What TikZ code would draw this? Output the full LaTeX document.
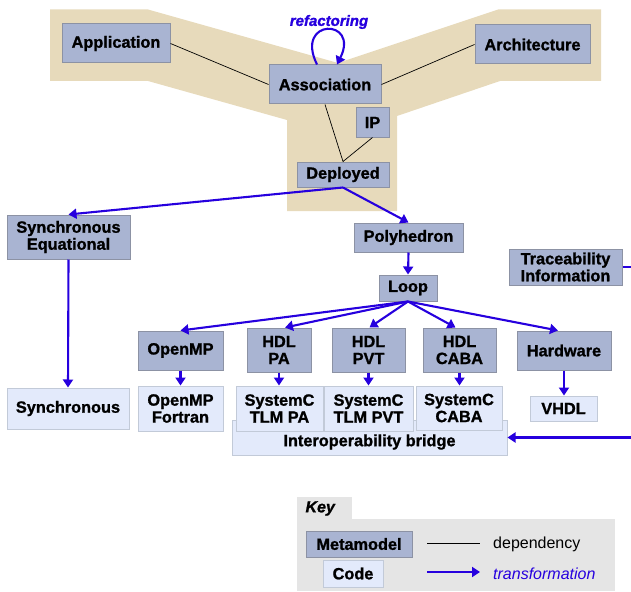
\documentclass[tikz,border=0pt]{standalone}
\usepackage{fontspec}
\setmainfont{Liberation Sans}[BoldFeatures={FakeBold=1.2},BoldItalicFeatures={FakeBold=1.2}]
\usetikzlibrary{arrows.meta,calc}
\definecolor{mmfill}{RGB}{169,180,210}
\definecolor{mmline}{RGB}{140,146,164}
\definecolor{cdfill}{RGB}{227,234,251}
\definecolor{cdline}{RGB}{194,202,216}
\definecolor{beige}{RGB}{231,218,187}
\definecolor{tblue}{RGB}{38,0,222}
\definecolor{keygrey}{RGB}{229,229,229}
\begin{document}
\begin{tikzpicture}[x=1pt,y=-1pt,
  boxfont/.style={font=\fontsize{16.3}{17}\selectfont\bfseries},
  mm/.style={draw=mmline, fill=mmfill, line width=1pt, inner sep=0pt, align=center, boxfont},
  cd/.style={draw=cdline, fill=cdfill, line width=1pt, inner sep=0pt, align=center, boxfont},
  dependency/.style={black, line width=0.7pt},
  trans/.style={tblue, line width=2.1pt, -{Triangle[length=8pt,width=10pt]}}]
\useasboundingbox (0,0) rectangle (631,591);
% beige background
\fill[beige] (50,9.5) -- (148,9.5) -- (338,63) -- (498,9.5) -- (601,9.5) -- (601,81) -- (500,81)
  -- (397,116) -- (397,211) -- (287,211) -- (287,120) -- (148,81) -- (50,81) -- cycle;
% metamodels top
\node[mm, minimum width=108pt, minimum height=39pt] (app) at (116,43.5) {Application};
\node[mm, minimum width=115pt, minimum height=39pt] (arch) at (532.5,44.5) {Architecture};
\node[mm, minimum width=112pt, minimum height=39pt] (assoc) at (325,84.5) {Association};
\node[mm, minimum width=33pt, minimum height=29pt] (ip) at (372.5,122.5) {IP};
\node[mm, minimum width=92pt, minimum height=25pt] (dep) at (343,174.5) {Deployed};
\draw[dependency] (app.east) -- (assoc.west);
\draw[dependency] (assoc.east) -- (arch.west);
\draw[dependency] (assoc.south) -- (dep.north);
\draw[dependency] (ip.south) -- (dep.north);
\draw[trans] ($(assoc.north)+(-8,0)$) .. controls (294,18) and (360,18) .. ($(assoc.north)+(12,0)$);
\node[text=tblue, font=\fontsize{15}{17}\selectfont\bfseries\itshape] (refac) at (329,22) {refactoring};
% middle
\node[mm, minimum width=123pt, minimum height=44pt] (synceq) at (68.5,237) {Synchronous\\Equational};
\node[mm, minimum width=109pt, minimum height=29pt] (poly) at (408.5,237.5) {Polyhedron};
\node[mm, minimum width=113pt, minimum height=36pt] (trace) at (565.5,267) {Traceability\\Information};
\node[mm, minimum width=58pt, minimum height=26pt] (loop) at (408,288) {Loop};
\node[mm, minimum width=85pt, minimum height=39pt] (openmp) at (180.5,350.5) {OpenMP};
\node[mm, minimum width=64pt, minimum height=44pt] (hdlpa) at (279,350) {HDL\\PA};
\node[mm, minimum width=73pt, minimum height=44pt] (hdlpvt) at (368.5,350) {HDL\\PVT};
\node[mm, minimum width=73pt, minimum height=44pt] (hdlcaba) at (459.5,350) {HDL\\CABA};
\node[mm, minimum width=94pt, minimum height=39pt] (hardware) at (564,350.5) {Hardware};
% code
\node[cd, minimum width=275pt, minimum height=35pt] (bridge) at (369.5,437.5) {};
\node[boxfont] (bridgetext) at (369.5,442) {Interoperability bridge};
\node[cd, minimum width=122pt, minimum height=41pt] (sync) at (68,408.5) {Synchronous};
\node[cd, minimum width=85pt, minimum height=45pt] (ompf) at (180.5,408.5) {OpenMP\\Fortran};
\node[cd, minimum width=87pt, minimum height=45pt] (tlmpa) at (279.5,408.5) {SystemC\\TLM PA};
\node[cd, minimum width=89pt, minimum height=45pt] (tlmpvt) at (368.5,408.5) {SystemC\\TLM PVT};
\node[cd, minimum width=86pt, minimum height=44pt] (scaba) at (459,408) {SystemC\\CABA};
\node[cd, minimum width=67pt, minimum height=25pt] (vhdl) at (563.5,408.5) {VHDL};
% transformations
\draw[trans] (dep.south) -- (synceq.north);
\draw[trans] (dep.south) -- (poly.north);
\draw[trans] (poly.south) -- (loop.north);
\draw[trans] (loop.south) -- (openmp.north);
\draw[trans] (loop.south) -- ($(hdlpa.north)+(6,0)$);
\draw[trans] (loop.south) -- ($(hdlpvt.north)+(1,0)$);
\draw[trans] (loop.south) -- ($(hdlcaba.north)+(-4,0)$);
\draw[trans] (loop.south) -- ($(hardware.north)+(-6,0)$);
\draw[trans] (synceq.south) -- (sync.north);
\draw[trans] (openmp.south) -- (ompf.north);
\draw[trans] (hdlpa.south) -- (tlmpa.north -| hdlpa.south);
\draw[trans] (hdlpvt.south) -- (tlmpvt.north -| hdlpvt.south);
\draw[trans] (hdlcaba.south) -- (scaba.north -| hdlcaba.south);
\draw[trans] (hardware.south) -- (vhdl.north -| hardware.south);
\coordinate (tr1) at (645,267);
\coordinate (tr2) at (645,437.5);
\draw[trans] (trace.east) -- (tr1) -- (tr2) -- (bridge.east);
% key
\fill[keygrey] (297,497) rectangle (352,519);
\fill[keygrey] (297,519) rectangle (615,591);
\node[font=\fontsize{16}{17}\selectfont\bfseries\itshape, anchor=west] (keylabel) at (302,508.5) {Key};
\node[mm, minimum width=106pt, minimum height=26pt] (keymm) at (359,544) {Metamodel};
\node[cd, minimum width=60pt, minimum height=27pt] (keycd) at (353,573.5) {Code};
\coordinate (d1) at (427,543);
\coordinate (d2) at (480,543);
\draw[dependency] (d1) -- (d2);
\node[font=\fontsize{16}{17}\selectfont, anchor=west, inner sep=0pt] (deplabel) at (493,544.5) {dependency};
\coordinate (t1) at (427,572);
\coordinate (t2) at (480,572);
\draw[trans] (t1) -- (t2);
\node[font=\fontsize{16}{17}\selectfont\itshape, text=tblue, anchor=west, inner sep=0pt] (translabel) at (493,573.5) {transformation};
\end{tikzpicture}
\end{document}
